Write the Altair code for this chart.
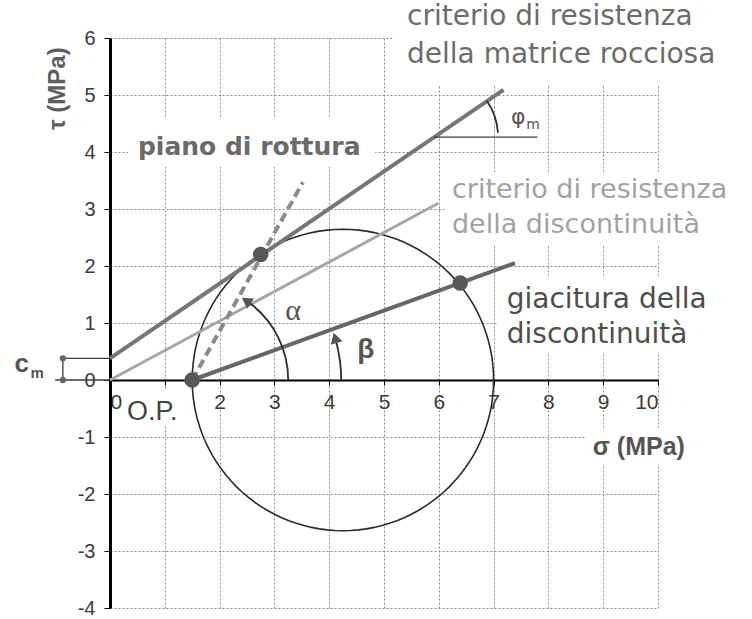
import math
import altair as alt
import pandas as pd

# ---- axes -------------------------------------------------------------
SIGMA_RANGE = [0, 10]
TAU_RANGE = [-4, 6]
PLOT_W, PLOT_H = 548, 570
PX_SIGMA = PLOT_W / (SIGMA_RANGE[1] - SIGMA_RANGE[0])   # pixels per MPa on sigma
PX_TAU = PLOT_H / (TAU_RANGE[1] - TAU_RANGE[0])         # pixels per MPa on tau
sigma_ticks = list(range(0, 11))
tau_ticks = list(range(-4, 7))

# ---- stress state and strength criteria (MPa) ---------------------------
SIGMA_3 = 1.5          # minor principal stress = pole O.P.
SIGMA_1 = 7.0          # major principal stress
C_M = 0.38             # cohesion of the intact rock

matrix_sigma = [0.0, 7.18]     # criterio di resistenza della matrice rocciosa
matrix_tau = [C_M, 5.09]
joint_sigma = [0.0, 5.99]      # criterio di resistenza della discontinuità
joint_tau = [0.0, 3.10]
rupture_sigma = [SIGMA_3, 3.52]   # piano di rottura (through the pole)
rupture_tau = [0.0, 3.47]
plane_sigma = [SIGMA_3, 7.39]     # giacitura della discontinuità (through the pole)
plane_tau = [0.0, 2.05]
dot_sigma = [SIGMA_3, 2.75, 6.39]
dot_tau = [0.0, 2.20, 1.70]

LIGHT = "#a6a6a6"
HAND = "DejaVu Sans"
ARIAL = "Liberation Sans"
# integer tick labels with a plain hyphen for negatives
INT_LABEL = "datum.value < 0 ? '-' + abs(datum.value) : '' + datum.value"


def seg(xs, ys):
    return pd.DataFrame({"sigma": xs, "tau": ys})


def pix_angle(xs, ys):
    """Screen angle (degrees) of a segment drawn on the sigma-tau plane."""
    return math.degrees(math.atan2((ys[1] - ys[0]) * PX_TAU, (xs[1] - xs[0]) * PX_SIGMA))


X = alt.X(
    "sigma:Q",
    scale=alt.Scale(domain=SIGMA_RANGE, nice=False, zero=False),
    axis=alt.Axis(
        values=sigma_ticks, title=None, offset=-PLOT_H * (0 - TAU_RANGE[0]) / (TAU_RANGE[1] - TAU_RANGE[0]),
        grid=True, gridColor="#8a8a8a", gridDash=[2, 2], gridWidth=1,
        domainColor="black", domainWidth=2, tickColor="black", tickSize=5,
        labelFont=ARIAL, labelFontSize=21, labelColor="#3a3a3a", labelPadding=6,
        labelExpr="datum.value == 1 ? '' : " + INT_LABEL, zindex=0,
    ),
)
Y = alt.Y(
    "tau:Q",
    scale=alt.Scale(domain=TAU_RANGE, nice=False, zero=False),
    axis=alt.Axis(
        values=tau_ticks, title=None,
        grid=True, gridColor="#8a8a8a", gridDash=[2, 2], gridWidth=1,
        domainColor="black", domainWidth=3, tickColor="black", tickSize=6,
        labelFont=ARIAL, labelFontSize=20, labelColor="#3a3a3a", labelPadding=9,
        labelExpr=INT_LABEL, zindex=0,
    ),
)

# white backing behind the text blocks (they interrupt the grid)
boxes = pd.DataFrame({
    "sigma": [5.15, 6.11, 7.06, 0.33, 0.22, 8.67, 3.12],
    "sigma2": [10.95, 11.7, 11.1, 4.84, 1.39, 10.68, 3.56],
    "tau": [5.18, 2.35, 0.49, 3.74, -0.81, -1.47, 1.00],
    "tau2": [6.67, 3.65, 1.82, 4.60, -0.18, -0.84, 1.37],
})
box_layer = alt.Chart(boxes).mark_rect(color="white").encode(
    x=X, x2="sigma2:Q", y=Y, y2="tau2:Q")

# Mohr circle (round on screen)
center = (SIGMA_1 + SIGMA_3) / 2
radius = (SIGMA_1 - SIGMA_3) / 2
radius_tau = radius * PX_SIGMA / PX_TAU
angles = list(range(0, 361, 3))
circle = pd.DataFrame({
    "sigma": [center + radius * math.cos(math.radians(a)) for a in angles],
    "tau": [radius_tau * math.sin(math.radians(a)) for a in angles],
    "k": angles,
})
circle_layer = alt.Chart(circle).mark_line(color="#2a2a2a", strokeWidth=1.6).encode(
    x="sigma:Q", y="tau:Q", order="k:Q")

matrix_layer = alt.Chart(seg(matrix_sigma, matrix_tau)).mark_line(
    color="#767676", strokeWidth=4).encode(x="sigma:Q", y="tau:Q")
joint_layer = alt.Chart(seg(joint_sigma, joint_tau)).mark_line(
    color=LIGHT, strokeWidth=3).encode(x="sigma:Q", y="tau:Q")
plane_layer = alt.Chart(seg(plane_sigma, plane_tau)).mark_line(
    color="#666666", strokeWidth=4).encode(x="sigma:Q", y="tau:Q")
rupture_layer = alt.Chart(seg(rupture_sigma, rupture_tau)).mark_line(
    color="#8a8a8a", strokeWidth=4, strokeDash=[9, 5]).encode(x="sigma:Q", y="tau:Q")

# angle arcs: alpha and beta around the pole, phi_m on the matrix envelope
a_alpha = pix_angle(rupture_sigma, rupture_tau)
a_beta = pix_angle(plane_sigma, plane_tau)
a_phi = pix_angle(matrix_sigma, matrix_tau)
PHI_TAU = 4.26
phi_sigma = matrix_sigma[0] + (PHI_TAU - matrix_tau[0]) * (matrix_sigma[1] - matrix_sigma[0]) / (matrix_tau[1] - matrix_tau[0])


def arc(cx, cy, r, a_from, a_to):
    return alt.Chart(pd.DataFrame({"sigma": [cx], "tau": [cy]})).mark_arc(
        radius=r + 0.9, radius2=r - 0.9,
        theta=math.radians(90 - a_to), theta2=math.radians(90 - a_from),
        color="#2e2e2e").encode(x="sigma:Q", y="tau:Q")


R_ALPHA, R_BETA, R_PHI = 96, 149, 64
arc_layers = [
    arc(SIGMA_3, 0, R_ALPHA, 0, a_alpha - 8),
    arc(SIGMA_3, 0, R_BETA, 0, a_beta - 5),
    arc(phi_sigma, PHI_TAU, R_PHI, 4, a_phi),
]

# thin horizontal reference for phi_m
phi_ref = alt.Chart(pd.DataFrame({"sigma": [phi_sigma], "sigma2": [7.8], "tau": [PHI_TAU]})).mark_rule(
    color="#3a3a3a", strokeWidth=1.3).encode(x="sigma:Q", x2="sigma2:Q", y="tau:Q")


def on_arc(cx, cy, r, a):
    return (cx + r * math.cos(math.radians(a)) / PX_SIGMA,
            cy + r * math.sin(math.radians(a)) / PX_TAU)


ax, ay = on_arc(SIGMA_3, 0, R_ALPHA, a_alpha - 5)
bx, by = on_arc(SIGMA_3, 0, R_BETA, a_beta - 3.5)
arrows = pd.DataFrame({"sigma": [ax, bx], "tau": [ay, by],
                       "rot": [360 - (a_alpha - 5), 360 - (a_beta - 3.5)]})
arrow_layer = alt.Chart(arrows).mark_point(
    shape="triangle-up", filled=True, size=150, color="#555555", opacity=1).encode(
    x="sigma:Q", y="tau:Q", angle=alt.Angle("rot:Q", scale=None))

dots_layer = alt.Chart(seg(dot_sigma, dot_tau)).mark_circle(
    size=240, color="#575757", opacity=1).encode(x="sigma:Q", y="tau:Q")

# cohesion bracket c_m left of the tau axis
cm_rules = pd.DataFrame({"sigma": [-0.86, -1.0, -0.86], "sigma2": [0.0, 0.0, -0.86],
                         "tau": [C_M, 0.0, 0.0], "tau2": [C_M, 0.0, C_M]})
cm_layer = alt.Chart(cm_rules).mark_rule(color="#3a3a3a", strokeWidth=1.3).encode(
    x="sigma:Q", x2="sigma2:Q", y="tau:Q", y2="tau2:Q")
cm_dots = alt.Chart(seg([-0.86, -0.86], [0.0, C_M])).mark_circle(
    size=40, color="#666666", opacity=1).encode(x="sigma:Q", y="tau:Q")


def text_layer(labels, xs, ys, **kw):
    df = pd.DataFrame({"label": labels, "sigma": xs, "tau": ys})
    return alt.Chart(df).mark_text(**kw).encode(x="sigma:Q", y="tau:Q", text="label:N")


texts = [
    text_layer(["criterio di resistenza", "della matrice rocciosa"], [5.42, 5.42], [6.23, 5.56],
               font=HAND, fontSize=28, color="#6c6c6c", align="left", baseline="alphabetic"),
    text_layer(["criterio di resistenza", "della discontinuità"], [6.24, 6.24], [3.19, 2.58],
               font=HAND, fontSize=27, color="#a2a2a2", align="left", baseline="alphabetic"),
    text_layer(["giacitura della", "discontinuità"], [7.24, 7.24], [1.26, 0.65],
               font=HAND, fontSize=28, color="#4e4e4e", align="left", baseline="alphabetic"),
    text_layer(["piano di rottura"], [0.51], [3.95],
               font=HAND, fontSize=25, fontWeight="bold", color="#6a6a6a", align="left", baseline="alphabetic"),
    text_layer(["O.P."], [0.31], [-0.70],
               font=ARIAL, fontSize=27, color="#444444", align="left", baseline="alphabetic"),
    text_layer(["α"], [3.34], [1.05],
               font="Liberation Serif", fontSize=30, color="#555555", align="center", baseline="alphabetic"),
    text_layer(["β"], [4.67], [0.53],
               font=ARIAL, fontSize=28, fontWeight="bold", color="#555555", align="center", baseline="middle"),
    text_layer(["φ"], [7.45], [4.61],
               font=HAND, fontSize=22, color="#555555", align="center", baseline="middle"),
    text_layer(["m"], [7.72], [4.47],
               font=HAND, fontSize=14, color="#555555", align="center", baseline="middle"),
    text_layer(["c"], [-1.61], [0.28],
               font=ARIAL, fontSize=26, fontWeight="bold", color="#555555", align="center", baseline="middle"),
    text_layer(["m"], [-1.33], [0.12],
               font=ARIAL, fontSize=15, fontWeight="bold", color="#555555", align="center", baseline="middle"),
    text_layer(["τ (MPa)"], [-0.95], [5.11],
               font=ARIAL, fontSize=24, fontWeight="bold", color="#5e5e5e", align="center",
               baseline="middle", angle=270),
    text_layer(["σ (MPa)"], [9.65], [-1.18],
               font=ARIAL, fontSize=25, fontWeight="bold", color="#555555", align="center", baseline="middle"),
]

chart = alt.layer(
    box_layer, circle_layer, joint_layer, matrix_layer, plane_layer, rupture_layer,
    *arc_layers, phi_ref, arrow_layer, dots_layer, cm_layer, cm_dots, *texts,
).properties(
    width=PLOT_W, height=PLOT_H,
    padding={"left": 110, "top": 38, "right": 94, "bottom": 11},
    autosize=alt.AutoSizeParams(type="none"),
    background="white",
).configure_view(stroke=None)

chart.save("out.html", embed_options={"renderer": "svg", "actions": False})
